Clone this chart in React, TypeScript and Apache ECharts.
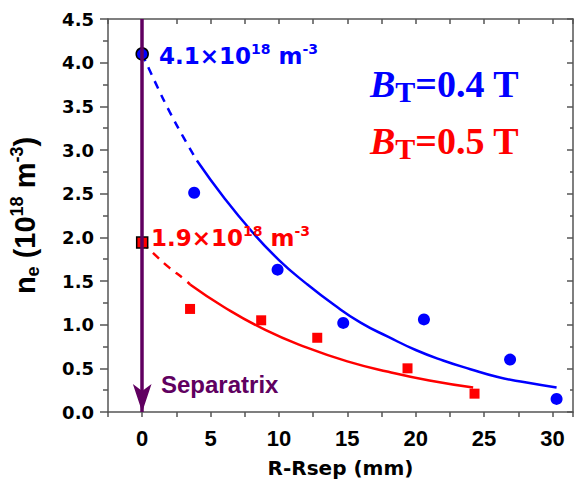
import React, { useEffect, useRef } from "react";
import * as echarts from "echarts";

// ---- data ----
const blueX = [3.8, 9.9, 14.7, 20.6, 26.9, 30.3];
const blueY = [2.51, 1.63, 1.02, 1.06, 0.6, 0.15];
const redX = [3.5, 8.7, 12.8, 19.4, 24.3];
const redY = [1.18, 1.05, 0.85, 0.5, 0.21];
const blueSepPoint = [0, 4.1];
const redSepPoint = [0, 1.94];
const blueFitDashX = [0, 1, 2, 3, 4];
const blueFitDashY = [4.1, 3.76, 3.44, 3.15, 2.88];
const blueFitX = [4, 6, 8, 10, 12, 14, 16, 18, 20, 22, 24, 26, 28, 30.3];
const blueFitY = [2.88, 2.45, 2.07, 1.74, 1.47, 1.23, 1.02, 0.86, 0.71, 0.59, 0.49, 0.4, 0.34, 0.28];
const redFitDashX = [0, 1, 2, 3, 3.5];
const redFitDashY = [1.94, 1.79, 1.65, 1.53, 1.46];
const redFitX = [3.5, 6, 9, 12, 15, 18, 21, 24.2];
const redFitY = [1.46, 1.2, 0.94, 0.74, 0.58, 0.46, 0.36, 0.28];
const separatrixX = 0;
const yMin = 0;
const yMax = 4.5;
const xMin = -2.5;
const xMax = 31.5;

const zip = (xs: number[], ys: number[]) => xs.map((x, i) => [x, ys[i]]);

const BLUE = "#0000ff";
const RED = "#ff0000";
const PURPLE = "#600060";
const AXIS = "#555555";

export default function App() {
  const ref = useRef<HTMLDivElement>(null);
  useEffect(() => {
    if (!ref.current) return;
    const chart = echarts.init(ref.current, null, { renderer: "svg" });
    const axisLine = { show: true, onZero: false, lineStyle: { color: AXIS, width: 1.5 } };
    const tickStyle = { color: AXIS, width: 1.5 };
    const option: any = {
      animation: false,
      backgroundColor: "#ffffff",
      grid: { left: 105, right: 1, top: 19, bottom: 70, containLabel: false },
      xAxis: [
        {
          type: "value",
          min: xMin,
          max: xMax,
          interval: 2.5,
          position: "bottom",
          axisLine,
          axisTick: { show: true, inside: false, length: 5, lineStyle: tickStyle },
          splitLine: { show: false },
          axisLabel: {
            margin: 15,
            color: "#000",
            fontSize: 22,
            fontWeight: "bold",
            fontFamily: "Liberation Sans",
            formatter: (v: number) => (Math.abs(v % 5) < 1e-6 ? String(v) : ""),
          },
          name: "R-Rsep (mm)",
          nameLocation: "middle",
          nameGap: 46,
          nameTextStyle: { color: "#000", fontSize: 20, fontWeight: "bold", fontFamily: "DejaVu Sans" },
        },
        {
          type: "value",
          min: xMin,
          max: xMax,
          interval: 2.5,
          position: "top",
          axisLine,
          axisTick: { show: true, inside: true, length: 5, lineStyle: tickStyle },
          axisLabel: { show: false },
          splitLine: { show: false },
        },
      ],
      yAxis: [
        {
          type: "value",
          min: yMin,
          max: yMax,
          interval: 0.5,
          position: "left",
          axisLine,
          axisTick: { show: true, inside: false, length: 8, lineStyle: tickStyle },
          minorTick: { show: true, splitNumber: 2, length: 5, lineStyle: tickStyle },
          splitLine: { show: false },
          minorSplitLine: { show: false },
          axisLabel: {
            margin: 14,
            color: "#000",
            fontSize: 18,
            fontWeight: "bold",
            fontFamily: "DejaVu Sans",
            formatter: (v: number) => v.toFixed(1),
          },
          name: "{n|n}{sub|e}{n| (10}{sup|18}{n| m}{sup|-3}{n|)}",
          nameLocation: "middle",
          nameGap: 66,
          nameTextStyle: {
            color: "#000",
            rich: {
              n: { fontSize: 29, fontWeight: "bold", fontFamily: "Liberation Sans", lineHeight: 34, color: "#000" },
              sub: { fontSize: 18, fontWeight: "bold", fontFamily: "Liberation Sans", lineHeight: 15, verticalAlign: "bottom", color: "#000" },
              sup: { fontSize: 18, fontWeight: "bold", fontFamily: "Liberation Sans", lineHeight: 15, verticalAlign: "top", color: "#000" },
            },
          },
        },
        {
          type: "value",
          min: yMin,
          max: yMax,
          interval: 0.5,
          position: "right",
          axisLine,
          axisTick: { show: true, inside: true, length: 6, lineStyle: tickStyle },
          minorTick: { show: true, splitNumber: 2, length: 3, lineStyle: tickStyle },
          axisLabel: { show: false },
          splitLine: { show: false },
          minorSplitLine: { show: false },
        },
      ],
      series: [
        {
          type: "line",
          data: [],
          z: 1,
          markLine: {
            silent: true,
            symbol: ["none", "arrow"],
            symbolSize: [14, 28],
            label: { show: false },
            lineStyle: { color: PURPLE, width: 3.5, type: "solid" },
            emphasis: { disabled: true },
            data: [[{ coord: [separatrixX, yMax] }, { coord: [separatrixX, yMin] }]],
          },
        },
        {
          type: "line",
          data: zip(blueFitDashX, blueFitDashY),
          showSymbol: false,
          symbol: "none",
          smooth: true,
          z: 2,
          lineStyle: { color: BLUE, width: 2.5, type: [8, 7] },
        },
        {
          type: "line",
          data: zip(blueFitX, blueFitY),
          showSymbol: false,
          symbol: "none",
          smooth: true,
          z: 2,
          lineStyle: { color: BLUE, width: 2.5 },
        },
        {
          type: "line",
          data: zip(redFitDashX, redFitDashY),
          showSymbol: false,
          symbol: "none",
          smooth: true,
          z: 2,
          lineStyle: { color: RED, width: 2.5, type: [8, 7] },
        },
        {
          type: "line",
          data: zip(redFitX, redFitY),
          showSymbol: false,
          symbol: "none",
          smooth: true,
          z: 2,
          lineStyle: { color: RED, width: 2.5 },
        },
        {
          type: "scatter",
          data: zip(blueX, blueY),
          symbol: "circle",
          symbolSize: 12,
          z: 3,
          itemStyle: { color: BLUE, opacity: 1 },
        },
        {
          type: "scatter",
          data: zip(redX, redY),
          symbol: "rect",
          symbolSize: 10,
          z: 3,
          itemStyle: { color: RED, opacity: 1 },
        },
        {
          type: "scatter",
          data: [blueSepPoint],
          symbol: "circle",
          symbolSize: 12,
          z: 4,
          itemStyle: { color: BLUE, borderColor: "#000", borderWidth: 1.5, opacity: 1 },
        },
        {
          type: "scatter",
          data: [redSepPoint],
          symbol: "rect",
          symbolSize: 11,
          z: 4,
          itemStyle: { color: RED, borderColor: "#000", borderWidth: 1.5, opacity: 1 },
        },
      ],
      graphic: [
        {
          type: "text",
          x: 159,
          y: 56,
          z: 10,
          style: {
            text: "{a|4.1×10}{s|18}{a| m}{s|-3}",
            verticalAlign: "middle",
            rich: {
              a: { fontSize: 23, fontWeight: "bold", fontFamily: "DejaVu Sans", fill: BLUE, lineHeight: 28 },
              s: { fontSize: 14, fontWeight: "bold", fontFamily: "DejaVu Sans", fill: BLUE, lineHeight: 14, verticalAlign: "top" },
            },
          },
        },
        {
          type: "text",
          x: 151,
          y: 238,
          z: 10,
          style: {
            text: "{a|1.9×10}{s|18}{a| m}{s|-3}",
            verticalAlign: "middle",
            rich: {
              a: { fontSize: 23, fontWeight: "bold", fontFamily: "DejaVu Sans", fill: RED, lineHeight: 28 },
              s: { fontSize: 14, fontWeight: "bold", fontFamily: "DejaVu Sans", fill: RED, lineHeight: 14, verticalAlign: "top" },
            },
          },
        },
        {
          type: "text",
          x: 370,
          y: 84,
          z: 10,
          style: {
            text: "{b|B}{t|T}{a|=0.4 T}",
            verticalAlign: "middle",
            rich: {
              b: { fontSize: 38, fontWeight: "bold", fontStyle: "italic", fontFamily: "Liberation Serif", fill: BLUE, lineHeight: 44 },
              t: { fontSize: 30, fontWeight: "bold", fontFamily: "Liberation Serif", fill: BLUE, lineHeight: 30, verticalAlign: "bottom" },
              a: { fontSize: 38, fontWeight: "bold", fontFamily: "Liberation Serif", fill: BLUE, lineHeight: 44 },
            },
          },
        },
        {
          type: "text",
          x: 370,
          y: 141,
          z: 10,
          style: {
            text: "{b|B}{t|T}{a|=0.5 T}",
            verticalAlign: "middle",
            rich: {
              b: { fontSize: 38, fontWeight: "bold", fontStyle: "italic", fontFamily: "Liberation Serif", fill: RED, lineHeight: 44 },
              t: { fontSize: 30, fontWeight: "bold", fontFamily: "Liberation Serif", fill: RED, lineHeight: 30, verticalAlign: "bottom" },
              a: { fontSize: 38, fontWeight: "bold", fontFamily: "Liberation Serif", fill: RED, lineHeight: 44 },
            },
          },
        },
        {
          type: "text",
          x: 161,
          y: 384,
          z: 10,
          style: {
            text: "Separatrix",
            verticalAlign: "middle",
            fontSize: 24,
            fontWeight: "bold",
            fontFamily: "Liberation Sans",
            fill: PURPLE,
          },
        },
      ],
    };
    chart.setOption(option);
    return () => chart.dispose();
  }, []);
  return (
    <div
      ref={ref}
      style={{ position: "fixed", left: 0, top: 0, width: 576, height: 483, background: "#fff" }}
    />
  );
}
